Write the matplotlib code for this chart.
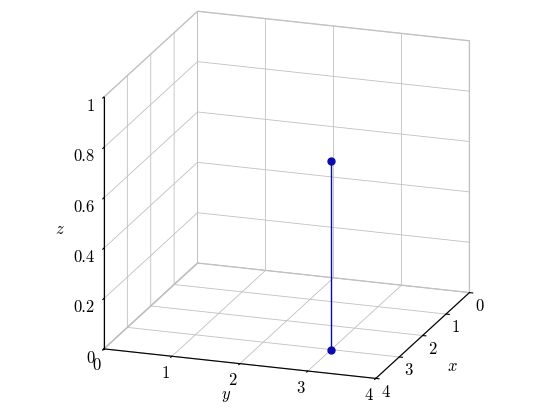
import matplotlib
matplotlib.use("Agg")
import matplotlib.pyplot as plt
import numpy as np

plt.rcParams['font.family'] = 'serif'
plt.rcParams['font.serif'] = ['cmr10']
plt.rcParams['mathtext.fontset'] = 'cm'
plt.rcParams['axes.formatter.use_mathtext'] = True
plt.rcParams['grid.color'] = '#c0c0c0'
plt.rcParams['grid.linewidth'] = 0.6

# data
x_ticks = [0, 1, 2, 3, 4]
y_ticks = [0, 1, 2, 3, 4]
z_ticks = [0, 0.2, 0.4, 0.6, 0.8, 1]
z_ticklabels = ['0', '0.2', '0.4', '0.6', '0.8', '1']
stem_x = [3, 3]
stem_y = [3, 3]
stem_z = [0, 0.75]

fig = plt.figure(figsize=(5.4, 4.19), dpi=100)
ax = fig.add_subplot(111, projection='3d', proj_type='ortho')
ax.set_position([0.0204, 0.0215, 1.0, 1.0])
ax.view_init(elev=18.4, azim=19)
ax.set_box_aspect((1, 1, 0.923), zoom=1.125)

col = '#0b0bb0'
ax.plot(stem_x, stem_y, stem_z, color=col, lw=1.0, marker='o', ms=5, mfc=col, mec=col)

ax.set_xlim(0, 4)
ax.set_ylim(0, 4)
ax.set_zlim(0, 1)
ax.set_xticks(x_ticks)
ax.set_yticks(y_ticks)
ax.set_zticks(z_ticks)
ax.set_zticklabels(z_ticklabels)
ax.set_xlabel('$x$', fontsize=12, labelpad=-4)
ax.set_ylabel('$y$', fontsize=12, labelpad=-6)
ax.set_zlabel('$z$', fontsize=12, labelpad=-2)

for axis in (ax.xaxis, ax.yaxis, ax.zaxis):
    axis.pane.set_facecolor((1, 1, 1, 0))
    axis.pane.set_edgecolor('#999999')
    axis.line.set_color('black')
    axis.line.set_linewidth(0.8)
    axis._axinfo['tick']['inward_factor'] = 0.15
    axis._axinfo['tick']['outward_factor'] = 0.0
    axis._axinfo['grid']['color'] = '#c0c0c0'
    axis._axinfo['grid']['linewidth'] = 0.6
ax.tick_params(labelsize=12)
ax.xaxis.set_tick_params(pad=-5)
ax.yaxis.set_tick_params(pad=-4)
ax.zaxis.set_tick_params(pad=-4)
plt.setp(ax.get_xticklabels(), ha='left')
plt.setp(ax.get_yticklabels(), ha='right')
plt.setp(ax.get_zticklabels(), ha='right')
ax.yaxis._axinfo['label']['ha'] = 'right'

fig.savefig('out.png', dpi=100)
